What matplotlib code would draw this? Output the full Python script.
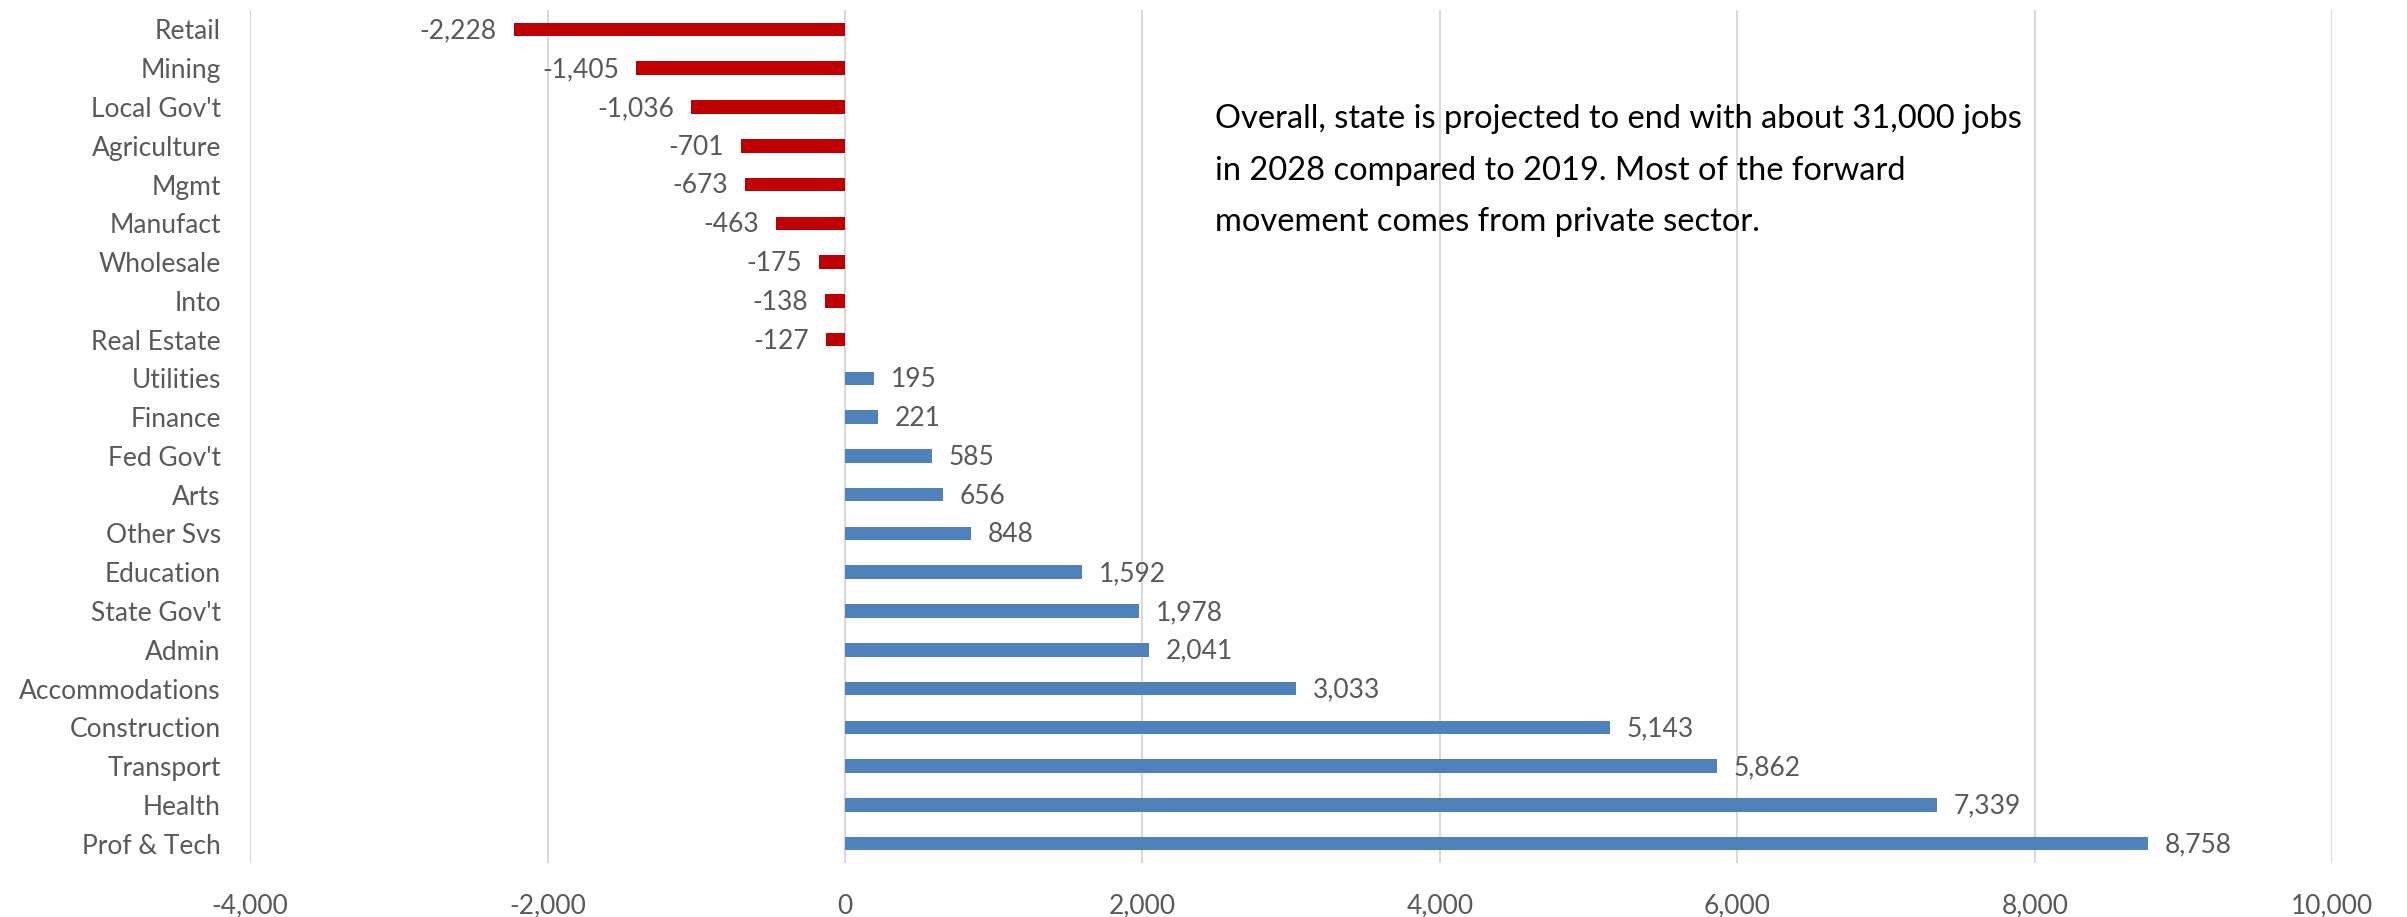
import numpy as np
import matplotlib.pyplot as plt
from matplotlib.ticker import FuncFormatter

plt.rcParams['font.family'] = ['Lato', 'DejaVu Sans']

# projected job change by sector, 2019 -> 2028
sectors = ["Retail", "Mining", "Local Gov't", "Agriculture", "Mgmt", "Manufact",
           "Wholesale", "Into", "Real Estate", "Utilities", "Finance", "Fed Gov't",
           "Arts", "Other Svs", "Education", "State Gov't", "Admin",
           "Accommodations", "Construction", "Transport", "Health", "Prof & Tech"]
change = [-2228, -1405, -1036, -701, -673, -463, -175, -138, -127,
          195, 221, 585, 656, 848, 1592, 1978, 2041, 3033, 5143, 5862, 7339, 8758]
xticks = [-4000, -2000, 0, 2000, 4000, 6000, 8000, 10000]

note = ("Overall, state is projected to end with about 31,000 jobs\n"
        "in 2028 compared to 2019. Most of the forward\n"
        "movement comes from private sector.")

RED = "#C00000"
BLUE = "#4F81BD"
GREY = "#595959"

fig = plt.figure(figsize=(24.07, 9.17), dpi=100)
ax = fig.add_axes([0.1039, 0.0589, 0.969 - 0.1039, 0.989 - 0.0589])

y = np.arange(len(sectors))
cols = [RED if v < 0 else BLUE for v in change]
ax.barh(y, change, height=0.35, color=cols, zorder=3)

for yi, v in zip(y, change):
    lbl = f"{v:,}"
    if v < 0:
        ax.annotate(lbl, (v, yi), xytext=(-12, -1), textcoords="offset points",
                    ha="right", va="center", fontsize=19, color=GREY)
    else:
        ax.annotate(lbl, (v, yi), xytext=(12, -1), textcoords="offset points",
                    ha="left", va="center", fontsize=19, color=GREY)

ax.set_ylim(len(sectors) - 0.5, -0.5)
ax.set_yticks(y)
ax.set_yticklabels(sectors)
ax.set_xlim(-4000, 10000)
ax.set_xticks(xticks)
ax.xaxis.set_major_formatter(FuncFormatter(lambda v, p: f"{int(v):,}"))

ax.grid(axis="x", color="#D9D9D9", linewidth=1.5, zorder=0)
for s in ax.spines.values():
    s.set_visible(False)
ax.tick_params(axis="both", length=0, labelsize=19, labelcolor=GREY)
ax.tick_params(axis="y", pad=21)
ax.tick_params(axis="x", pad=22)

fig.text(1215 / 2407, 1 - 104 / 917, note, ha="left", va="top",
         fontsize=23.5, color="black", linespacing=1.9)

fig.savefig("out.png", dpi=100)
